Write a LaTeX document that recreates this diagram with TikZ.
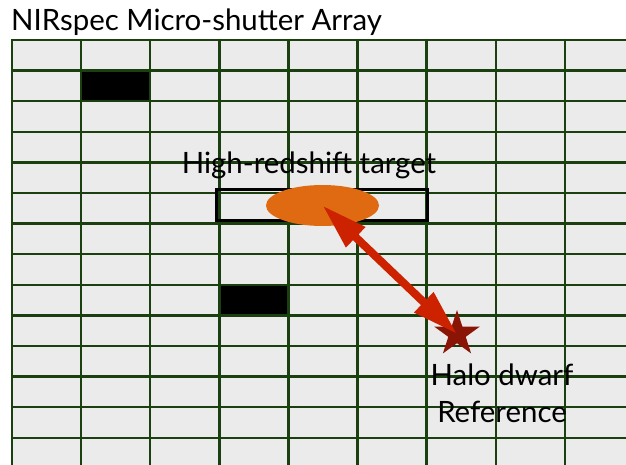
\documentclass[tikz,border=0pt]{standalone}
\usepackage{fontspec}
\setmainfont{Lato}
\usetikzlibrary{arrows.meta,shapes.geometric}
\definecolor{gridgreen}{HTML}{1A4010}
\definecolor{cellgrey}{HTML}{EBEBEB}
\definecolor{targetorange}{HTML}{E06A12}
\definecolor{arrowred}{HTML}{CC2200}
\definecolor{stardark}{HTML}{8A1405}
\begin{document}
\begin{tikzpicture}[x=1pt, y=-1pt, every node/.style={font=\fontsize{29.4}{37}\selectfont, inner sep=0pt}]
\useasboundingbox (0,0) rectangle (626,465);
\fill[cellgrey] (12,40) rectangle (626,465);
\fill (81,71) rectangle ++(69,30); \fill (219,285) rectangle ++(69,30);
\begin{scope}
\clip (0,0) rectangle (626,465);
\foreach \i in {0,...,8} \draw[gridgreen, line width=2.4pt] ({12+69.1*\i},40) -- ({12+69.1*\i},465);
\foreach \j in {0,...,13} \draw[gridgreen, line width=2.4pt] (10.8,{40+30.6*\j}) -- (626,{40+30.6*\j});
\end{scope}
\node[anchor=base west] (title) at (11,31) {NIRspec Micro-shutter Array};
\node[draw, line width=3pt, minimum width=211pt, minimum height=31pt] (slot) at (322,205) {};
\node[ellipse, fill=targetorange, minimum width=113pt, minimum height=41pt] (target) at (322.5,205.5) {};
\node[anchor=base] (targetlabel) at (309,174) {High-redshift target};
\node[star, star points=5, star point ratio=2.618, fill=stardark, minimum size=48pt] (dwarf) at (457,334) {};
\draw[arrowred, line width=8pt, {Triangle[width=26pt,length=46pt]}-{Triangle[width=26pt,length=46pt]}] (target.center) -- (dwarf.center);
\node[anchor=base, align=center] (dwarflabel) at (502,422) {Halo dwarf\\Reference};
\end{tikzpicture}
\end{document}
